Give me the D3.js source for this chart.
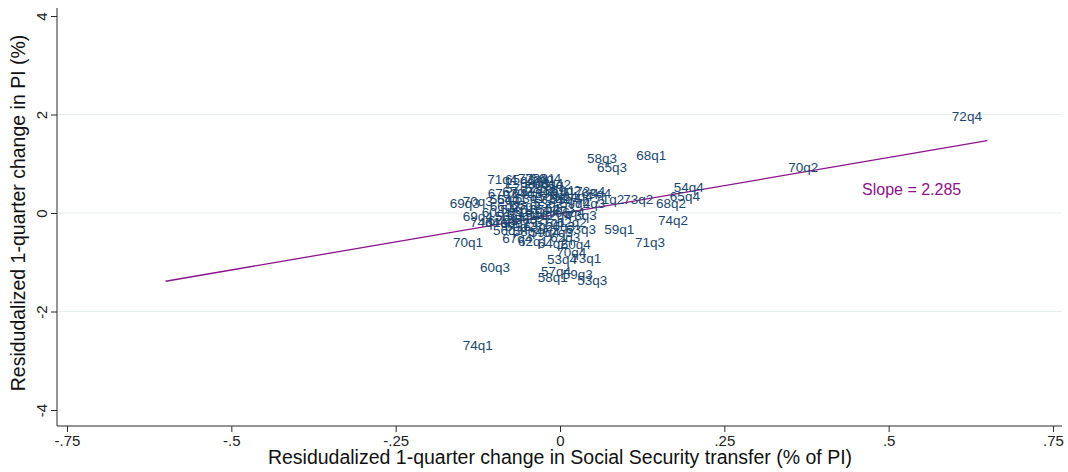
<!DOCTYPE html>
<html>
<head>
<meta charset="utf-8">
<script src="https://cdn.jsdelivr.net/npm/d3@7"></script>
<style>
  html, body { margin: 0; padding: 0; background: #ffffff; }
  svg { display: block; font-family: "Liberation Sans", Arial, sans-serif; }
</style>
</head>
<body>
<svg id="chart" width="1068" height="472"></svg>
<script>
// Quarter labels (year + quarter), residualized changes
const quarterLabels = [
  "53q1","53q2","53q3","53q4","54q1","54q2","54q3","54q4",
  "55q1","55q2","55q3","55q4","56q1","56q2","56q3","56q4",
  "57q1","57q2","57q3","57q4","58q1","58q2","58q3","58q4",
  "59q1","59q2","59q3","59q4","60q1","60q2","60q3","60q4",
  "61q1","61q2","61q3","61q4","62q1","62q2","62q3","62q4",
  "63q1","63q2","63q3","63q4","64q1","64q2","64q3","64q4",
  "65q1","65q2","65q3","65q4","66q1","66q2","66q3","66q4",
  "67q1","67q2","67q3","67q4","68q1","68q2","68q3","68q4",
  "69q1","69q2","69q3","69q4","70q1","70q2","70q3","70q4",
  "71q1","71q2","71q3","71q4","72q1","72q2","72q3","72q4",
  "73q1","73q2","73q3","73q4","74q1","74q2","74q3","74q4"
];

// Change in Social Security transfer (% of PI)
const ssChange = [
  -0.046, -0.018,  0.049,  0.003, -0.068, -0.030,  0.000,  0.196,
  -0.084, -0.053, -0.023,  0.008, -0.076, -0.046, -0.079, -0.021,
  -0.015, -0.061, -0.003, -0.006, -0.011, -0.030,  0.064, -0.049,
   0.090,  0.023,  0.027, -0.023, -0.096, -0.061, -0.099,  0.024,
   0.000, -0.006, -0.091, -0.038, -0.041,  0.018,  0.008, -0.005,
  -0.058, -0.033,  0.032,  0.055, -0.073, -0.011, -0.050,  0.027,
  -0.061, -0.023,  0.079,  0.190, -0.068, -0.084,  0.000,  0.015,
  -0.087, -0.065, -0.087, -0.065,  0.139,  0.169, -0.038, -0.018,
  -0.015,  0.009, -0.145, -0.125, -0.140,  0.370, -0.125,  0.017,
  -0.053,  0.075,  0.137, -0.088, -0.030, -0.008, -0.041,  0.619,
   0.040,  0.119,  0.033,  0.046, -0.125,  0.172,  0.046, -0.114
];

// Change in PI (%)
const piChange = [
   0.304,  0.203, -1.379, -0.953,  0.061, -0.041,  0.101,  0.527,
   0.264,  0.162,  0.325,  0.264, -0.081, -0.142, -0.365,  0.710,
  -0.183,  0.507, -0.406, -1.197, -1.318,  0.507,  1.116, -0.385,
  -0.345,  0.203, -1.258, -0.406,  0.020, -0.264, -1.116, -0.649,
   0.467,  0.588, -0.183,  0.061, -0.588, -0.183, -0.507, -0.041,
  -0.041, -0.264, -0.345,  0.406,  0.264, -0.629,  0.406,  0.345,
   0.690,  0.061,  0.933,  0.325, -0.223,  0.122, -0.264,  0.020,
  -0.162,  0.446,  0.406, -0.527,  1.176,  0.203,  0.609,  0.609,
   0.406,  0.467,  0.183, -0.061, -0.609,  0.933,  0.243, -0.811,
   0.020,  0.264, -0.609,  0.690,  0.710,  0.304,  0.710,  1.968,
  -0.933,  0.284, -0.041,  0.446, -2.698, -0.162,  0.203, -0.183
];

const xTicks = [-0.75, -0.5, -0.25, 0, 0.25, 0.5, 0.75];
const xTickLabels = ["-.75", "-.5", "-.25", "0", ".25", ".5", ".75"];
const yTicks = [-4, -2, 0, 2, 4];
const yTickLabels = ["-4", "-2", "0", "2", "4"];
const yGrid = [-2, 0, 2];

// Fitted regression line
const fitSlope = 2.285;
const fitIntercept = -0.015;
const fitRange = [-0.6, 0.65];
const slopeText = "Slope = 2.285";
const slopeTextPos = [0.535, 0.47];

const xTitle = "Residudalized 1-quarter change in Social Security transfer (% of PI)";
const yTitle = "Residudalized 1-quarter change in PI (%)";

const svg = d3.select("#chart");
const axisLeftX = 57, axisBottomY = 426, axisRightX = 1062, axisTopY = 8;

const x = d3.scaleLinear().domain([-0.75, 0.75]).range([67, 1053]);
const y = d3.scaleLinear().domain([-4, 4]).range([410, 16]);

const navy = "#1a476f";
const purple = "#8b138b";
const axisColor = "#2b2b2b";

// Gridlines
svg.append("g").selectAll("line").data(yGrid).join("line")
  .attr("x1", axisLeftX + 1).attr("x2", axisRightX)
  .attr("y1", d => y(d)).attr("y2", d => y(d))
  .attr("stroke", "#e7eff1").attr("stroke-width", 1);

// Y axis
const yAxis = d3.axisLeft(y).tickValues(yTicks)
  .tickFormat((d, i) => yTickLabels[i]).tickSize(6).tickSizeOuter(0);
const gy = svg.append("g").attr("transform", `translate(${axisLeftX},0)`).call(yAxis);
gy.select(".domain").remove();
gy.selectAll(".tick line").attr("stroke", axisColor);
gy.selectAll(".tick text")
  .attr("x", null).attr("dy", null)
  .attr("text-anchor", "middle")
  .attr("transform", "translate(-16,0) rotate(-90)")
  .attr("dominant-baseline", "central")
  .attr("fill", "#222").style("font-size", "15px")
  .style("font-family", "'Liberation Sans', Arial, sans-serif");
svg.append("line")
  .attr("x1", axisLeftX).attr("x2", axisLeftX)
  .attr("y1", axisTopY).attr("y2", axisBottomY)
  .attr("stroke", axisColor).attr("stroke-width", 1);

// X axis
const xAxis = d3.axisBottom(x).tickValues(xTicks)
  .tickFormat((d, i) => xTickLabels[i]).tickSize(6).tickSizeOuter(0);
const gx = svg.append("g").attr("transform", `translate(0,${axisBottomY})`).call(xAxis);
gx.select(".domain").remove();
gx.selectAll(".tick line").attr("stroke", axisColor);
gx.selectAll(".tick text")
  .attr("y", 9).attr("dy", "0.71em")
  .attr("fill", "#222").style("font-size", "15px")
  .style("font-family", "'Liberation Sans', Arial, sans-serif");
svg.append("line")
  .attr("x1", axisLeftX).attr("x2", axisRightX)
  .attr("y1", axisBottomY).attr("y2", axisBottomY)
  .attr("stroke", axisColor).attr("stroke-width", 1);

// Axis titles
svg.append("text")
  .attr("x", 560).attr("y", 464)
  .attr("text-anchor", "middle")
  .attr("fill", "#111").style("font-size", "19.5px")
  .text(xTitle);
svg.append("text")
  .attr("transform", `translate(25,${y(0)}) rotate(-90)`)
  .attr("text-anchor", "middle")
  .attr("fill", "#111").style("font-size", "19.5px")
  .text(yTitle);

// Regression line
const line = d3.line().x(d => x(d)).y(d => y(fitIntercept + fitSlope * d));
svg.append("path")
  .attr("d", line(fitRange))
  .attr("fill", "none").attr("stroke", purple).attr("stroke-width", 1.3);

// Quarter labels as markers
const points = quarterLabels.map((q, i) => ({ q, xv: ssChange[i], yv: piChange[i] }));
svg.append("g").selectAll("text").data(points).join("text")
  .attr("x", d => x(d.xv)).attr("y", d => y(d.yv))
  .attr("text-anchor", "middle").attr("dominant-baseline", "central")
  .attr("fill", navy).style("font-size", "13.5px")
  .text(d => d.q);

// Slope annotation
svg.append("text")
  .attr("x", x(slopeTextPos[0])).attr("y", y(slopeTextPos[1]))
  .attr("text-anchor", "middle").attr("dominant-baseline", "central")
  .attr("fill", purple).style("font-size", "16px")
  .text(slopeText);
</script>
</body>
</html>
